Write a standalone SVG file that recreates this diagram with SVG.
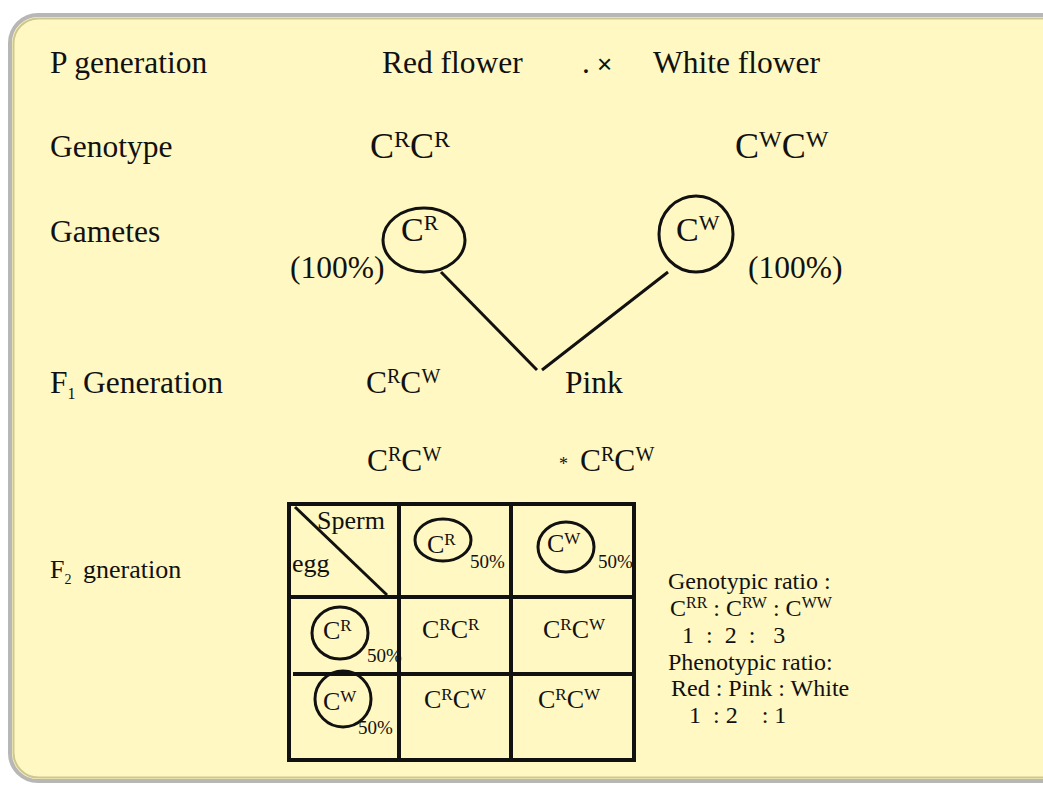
<svg xmlns="http://www.w3.org/2000/svg" width="1043" height="785" viewBox="0 0 1043 785" font-family="'Liberation Serif','Times New Roman',serif">
<style>
text{font-family:"Liberation Serif","Times New Roman",serif;fill:#111}
.l{font-size:31.5px}
.g{font-size:36px}
.m{font-size:26px}
.r{font-size:24px}
.s{font-size:19px}
.sup{font-size:20px}
.supg{font-size:24px}
.supm{font-size:17px}
.ring{fill:none;stroke:#111;stroke-width:3}
.grid{stroke:#111;stroke-width:4;fill:none}
.con{stroke:#111;stroke-width:3;fill:none}
</style>
<rect x="10" y="15" width="1100" height="766" rx="28" fill="#fff8c2" stroke="#b7b7b5" stroke-width="4"/>
<rect x="13.5" y="18.5" width="1093" height="759" rx="25" fill="none" stroke="#cfc792" stroke-width="2"/>

<g id="p-generation"><text class="l" x="50" y="73">P generation</text></g>
<g id="red-flower"><text class="l" x="382" y="73">Red flower</text></g>
<g id="cross"><text class="l" x="582" y="73">.<tspan style="font-family:'Liberation Sans',Arial,sans-serif;font-size:26px" x="597">×</tspan></text></g>
<g id="white-flower"><text class="l" x="653" y="73">White flower</text></g>

<g id="genotype"><text class="l" x="50" y="157">Genotype</text></g>
<g id="geno-red"><text class="g" x="370" y="158">C<tspan class="supg" dy="-11">R</tspan><tspan dy="11">C</tspan><tspan class="supg" dy="-11">R</tspan></text></g>
<g id="geno-white"><text class="g" x="735" y="158">C<tspan class="supg" dy="-11">W</tspan><tspan dy="11">C</tspan><tspan class="supg" dy="-11">W</tspan></text></g>

<g id="gametes"><text class="l" x="50" y="242">Gametes</text></g>
<g id="gamete-red">
<ellipse class="ring" cx="424" cy="240" rx="41" ry="32"/>
<text style="font-size:34px" x="401" y="241">C<tspan style="font-size:22px" dy="-11">R</tspan></text>
<text class="l" x="290" y="278">(100%)</text>
</g>
<g id="gamete-white">
<ellipse class="ring" cx="696" cy="234" rx="37" ry="38"/>
<text style="font-size:34px" x="676" y="241">C<tspan style="font-size:22px" dy="-11">W</tspan></text>
<text class="l" x="748" y="278">(100%)</text>
</g>

<g id="connectors">
<line class="con" x1="441" y1="272" x2="537" y2="370"/>
<line class="con" x1="668" y1="272" x2="542" y2="370"/>
</g>

<g id="f1-generation"><text class="l" x="50" y="393">F<tspan style="font-size:16px" dy="6">1</tspan><tspan dy="-6" x="83">Generation</tspan></text></g>
<g id="f1-genotype"><text class="l" x="366" y="393">C<tspan class="sup" dy="-10">R</tspan><tspan dy="10">C</tspan><tspan class="sup" dy="-10">W</tspan></text></g>
<g id="pink"><text class="l" x="565" y="393">Pink</text></g>

<g id="f1-cross-a"><text class="l" x="367" y="471">C<tspan class="sup" dy="-10">R</tspan><tspan dy="10">C</tspan><tspan class="sup" dy="-10">W</tspan></text></g>
<g id="f1-cross-b"><text style="font-size:18px" x="559" y="470">*</text><text class="l" x="580" y="471">C<tspan class="sup" dy="-10">R</tspan><tspan dy="10">C</tspan><tspan class="sup" dy="-10">W</tspan></text></g>

<g id="f2-generation"><text class="m" x="50" y="578">F<tspan style="font-size:14px" dy="6">2</tspan><tspan dy="-6" x="83">gneration</tspan></text></g>

<g id="punnett">
<rect class="grid" x="289" y="504" width="345" height="256"/>
<line class="grid" x1="399" y1="504" x2="399" y2="760"/>
<line class="grid" x1="511" y1="504" x2="511" y2="760"/>
<line class="grid" x1="289" y1="597" x2="634" y2="597"/>
<line class="grid" x1="293" y1="674" x2="634" y2="674"/>
<line class="con" x1="295" y1="507" x2="387" y2="595"/>
<text class="m" x="317" y="529">Sperm</text>
<text class="m" x="292" y="572">egg</text>

<ellipse class="ring" cx="443" cy="540" rx="28" ry="21"/>
<text class="m" x="427" y="553">C<tspan class="supm" dy="-8">R</tspan></text>
<text class="s" x="470" y="568">50%</text>
<ellipse class="ring" cx="566" cy="547" rx="28" ry="25"/>
<text class="m" x="547" y="552">C<tspan class="supm" dy="-8">W</tspan></text>
<text class="s" x="598" y="568">50%</text>

<ellipse class="ring" cx="340" cy="633" rx="28" ry="26"/>
<text class="m" x="323" y="639">C<tspan class="supm" dy="-8">R</tspan></text>
<text class="s" x="367" y="662">50%</text>
<text class="m" x="422" y="638">C<tspan class="supm" dy="-8">R</tspan><tspan dy="8">C</tspan><tspan class="supm" dy="-8">R</tspan></text>
<text class="m" x="543" y="638">C<tspan class="supm" dy="-8">R</tspan><tspan dy="8">C</tspan><tspan class="supm" dy="-8">W</tspan></text>

<ellipse class="ring" cx="343" cy="699" rx="28" ry="28"/>
<text class="m" x="323" y="710">C<tspan class="supm" dy="-8">W</tspan></text>
<text class="s" x="358" y="734">50%</text>
<text class="m" x="424" y="708">C<tspan class="supm" dy="-8">R</tspan><tspan dy="8">C</tspan><tspan class="supm" dy="-8">W</tspan></text>
<text class="m" x="538" y="708">C<tspan class="supm" dy="-8">R</tspan><tspan dy="8">C</tspan><tspan class="supm" dy="-8">W</tspan></text>
</g>

<g id="ratios">
<text class="r" x="668" y="589">Genotypic ratio :</text>
<text class="r" x="670" y="616">C<tspan style="font-size:16px" dy="-8">RR</tspan><tspan dy="8"> : C</tspan><tspan style="font-size:16px" dy="-8">RW</tspan><tspan dy="8"> : C</tspan><tspan style="font-size:16px" dy="-8">WW</tspan></text>
<text class="r" x="676" y="643" xml:space="preserve"> 1  :  2  :   3</text>
<text class="r" x="668" y="670">Phenotypic ratio:</text>
<text class="r" x="671" y="696">Red : Pink : White</text>
<text class="r" x="683" y="723" xml:space="preserve"> 1  : 2    : 1</text>
</g>
</svg>
